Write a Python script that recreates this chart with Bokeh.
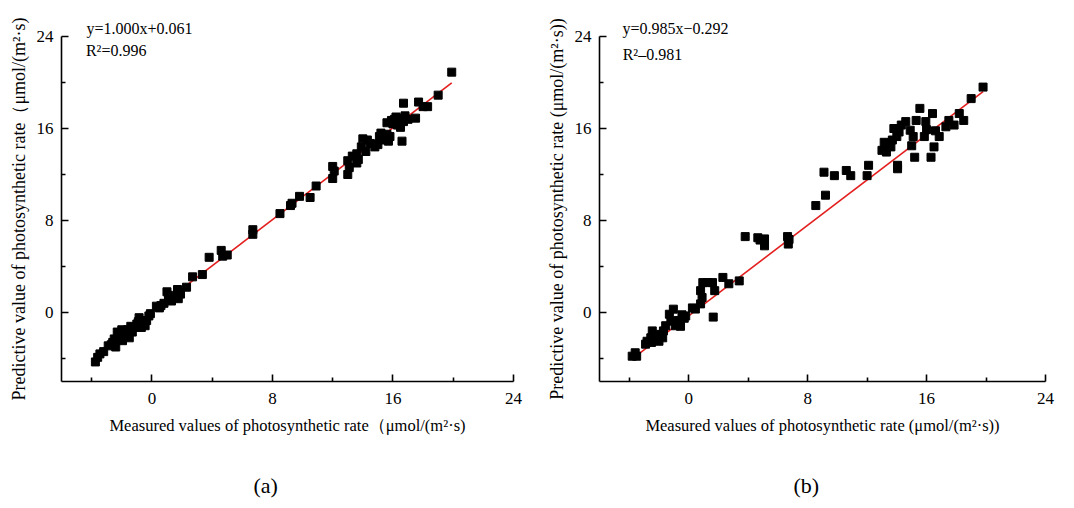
from bokeh.plotting import figure
from bokeh.layouts import row
from bokeh.models import Range1d, FixedTicker, Label, Title
from bokeh.embed import file_html
from bokeh.resources import INLINE

# ---------------- data ----------------
# Panel (a)
a_measured = [-3.75, -3.6, -3.45, -3.2, -2.9, -2.7, -2.4, -2.6, -2.5, -2.3, -2.1, -2.0, -1.95,
              -1.8, -1.7, -1.6, -1.5, -1.4, -1.3, -1.15, -1.0, -0.9, -0.85, -0.7, -0.55, -0.45,
              -0.35, -0.2, -0.1, 0.3, 0.5, 0.6, 0.8, 1.0, 1.1, 1.3, 1.4, 1.7, 1.75, 1.9, 2.3,
              2.7, 3.35, 3.8, 4.6, 4.7, 5.0, 6.7, 6.7, 8.5, 9.2, 9.3, 9.8, 10.5, 10.9, 12.0,
              12.1, 12.0, 13.0, 13.1, 13.0, 13.3, 13.6, 13.7, 13.6, 13.9, 14.0, 14.3, 14.2,
              14.5, 14.8, 15.0, 15.1, 15.2, 15.3, 15.5, 15.6, 15.7, 15.8, 15.6, 15.9, 16.0,
              16.1, 16.2, 16.3, 16.4, 16.5, 16.6, 16.7, 16.7, 16.8, 17.0, 17.5, 17.7, 18.0,
              18.3, 19.0, 19.9]
a_predicted = [-4.3, -3.9, -3.6, -3.4, -2.9, -2.8, -3.0, -2.6, -2.3, -1.7, -2.2, -1.5, -2.45,
               -1.9, -2.0, -1.5, -2.2, -1.2, -1.7, -1.3, -1.0, -0.8, -0.45, -1.3, -0.9, -1.15,
               -0.7, -0.3, -0.1, 0.55, 0.4, 0.6, 0.8, 1.8, 1.5, 1.0, 1.3, 2.0, 1.2, 1.6, 2.2,
               3.1, 3.3, 4.8, 5.4, 4.9, 5.0, 7.2, 6.8, 8.6, 9.3, 9.5, 10.1, 10.0, 11.0, 12.7,
               12.3, 11.65, 13.2, 12.6, 12.0, 13.6, 13.0, 13.3, 13.8, 14.4, 15.1, 15.0, 14.0,
               14.7, 14.4, 14.6, 15.3, 15.6, 15.0, 15.2, 15.5, 14.9, 15.3, 16.5, 16.7, 16.4,
               16.8, 17.0, 16.3, 16.9, 16.1, 14.9, 18.2, 16.6, 17.1, 16.8, 16.9, 18.3, 17.9,
               17.9, 18.9, 20.9]
a_slope, a_intercept = 1.000, 0.061
a_eq = "y=1.000x+0.061"
a_r2 = "R\u00b2=0.996"

# Panel (b)
b_measured = [-3.8, -3.5, -3.6, -2.9, -2.8, -2.5, -2.55, -2.45, -2.2, -2.0, -1.9, -1.75, -1.7,
              -1.55, -1.3, -1.2, -1.03, -0.9, -0.7, -0.55, -0.45, -0.3, -0.2, 0.25, 0.45, 0.8,
              0.9, 0.8, 0.95, 1.25, 1.6, 1.75, 1.65, 2.3, 2.7, 3.4, 3.8, 4.65, 4.8, 5.1, 5.1,
              6.65, 6.7, 6.75, 8.55, 9.1, 9.2, 9.8, 10.6, 10.9, 12.0, 12.1, 13.0, 13.15, 13.3,
              13.4, 13.6, 13.7, 13.8, 14.0, 14.05, 14.05, 14.15, 14.3, 14.6, 14.9, 15.0, 15.1,
              15.2, 15.3, 15.55, 15.85, 16.0, 15.95, 16.3, 16.4, 16.5, 16.6, 16.85, 17.3, 17.5,
              17.85, 18.2, 18.5, 19.0, 19.8]
b_predicted = [-3.8, -3.8, -3.5, -2.75, -2.5, -2.6, -2.2, -1.6, -2.2, -2.5, -1.9, -2.2, -1.6,
               -1.15, -0.15, -0.75, 0.29, -1.15, -0.7, -1.2, -0.2, -0.5, -0.3, 0.4, 0.3, 0.75,
               1.3, 1.9, 2.6, 2.6, 2.6, 1.9, -0.4, 3.05, 2.5, 2.75, 6.6, 6.5, 6.3, 6.4, 5.8,
               6.6, 5.95, 6.35, 9.3, 12.2, 10.2, 11.9, 12.35, 11.9, 11.9, 12.8, 14.1, 14.8, 13.95,
               14.7, 14.4, 15.0, 16.0, 15.3, 12.8, 12.5, 15.7, 16.3, 16.6, 15.85, 14.5, 15.3,
               13.5, 16.7, 17.75, 15.3, 15.9, 16.6, 13.5, 17.3, 14.4, 15.8, 15.3, 16.15, 16.7,
               16.3, 17.3, 16.7, 18.6, 19.6]
b_slope, b_intercept = 0.985, -0.292
b_eq = "y=0.985x\u22120.292"
b_r2 = "R\u00b2\u20130.981"

major_ticks = [0, 8, 16, 24]
minor_ticks = [-4, 4, 12, 20]
axis_min, axis_max = -6, 24

FONT = "Liberation Serif"


def make_panel(xs, ys, slope, intercept, eq, r2, xlabel, ylabel, tag,
               border_left, border_right, frame_w, eq_offset, eq_x, r2_y, tag_offset):
    p = figure(frame_width=frame_w, frame_height=345,
               x_range=Range1d(axis_min, axis_max), y_range=Range1d(axis_min, axis_max),
               output_backend="svg", toolbar_location=None,
               min_border_left=border_left, min_border_right=border_right,
               min_border_top=36, min_border_bottom=125,
               background_fill_color="white", border_fill_color="white")
    p.outline_line_color = None
    p.grid.visible = False

    for ax in (p.xaxis[0], p.yaxis[0]):
        ax.ticker = FixedTicker(ticks=major_ticks, minor_ticks=minor_ticks)
        ax.axis_line_color = "black"
        ax.axis_line_width = 1.6
        ax.major_tick_in = 7
        ax.major_tick_out = 0
        ax.minor_tick_in = 4
        ax.minor_tick_out = 0
        ax.major_tick_line_width = 1.6
        ax.minor_tick_line_width = 1.6
        ax.major_tick_line_color = "black"
        ax.minor_tick_line_color = "black"
        ax.major_label_text_font = FONT
        ax.major_label_text_font_size = "17px"
        ax.major_label_text_color = "black"
        ax.axis_label_text_font = FONT
        ax.axis_label_text_font_style = "normal"
        ax.axis_label_text_color = "black"
    p.xaxis[0].axis_label_text_font_size = "16.5px"
    p.yaxis[0].axis_label_text_font_size = "18px"
    p.xaxis[0].major_label_standoff = 11
    p.yaxis[0].major_label_standoff = 8
    p.xaxis[0].axis_label_standoff = 9
    p.yaxis[0].axis_label_standoff = 5

    p.xaxis.axis_label = xlabel
    p.yaxis.axis_label = ylabel

    # regression line across the measured range
    x0, x1 = min(xs), max(xs)
    p.line([x0, x1], [slope * x0 + intercept, slope * x1 + intercept],
           line_color="#e31e1e", line_width=1.6)
    p.scatter(xs, ys, marker="square", size=8, fill_color="black", line_color="black")

    # equation line sits across the top edge of the frame -> title above
    p.add_layout(Title(text=eq, align="left", offset=eq_offset, standoff=0,
                       text_font=FONT, text_font_size="16px", text_font_style="normal",
                       text_color="black"), "above")
    p.add_layout(Label(x=eq_x, y=r2_y, text=r2, text_font=FONT, text_font_size="16px",
                       text_baseline="middle", text_align="left", text_color="black"))
    p.add_layout(Title(text=tag, align="left", offset=tag_offset, standoff=66,
                       text_font=FONT, text_font_size="22px", text_font_style="normal",
                       text_color="black"), "below")
    return p


p1 = make_panel(a_measured, a_predicted, a_slope, a_intercept, a_eq, a_r2,
                "Measured values of photosynthetic rate\uff08\u03bcmol/(m\u00b2\u00b7s)",
                "Predictive value of photosynthetic rate\uff08\u03bcmol/(m\u00b2\u00b7s)",
                "(a)", 61, 24, 452, 25, -4.38, 22.78, 192)
p2 = make_panel(b_measured, b_predicted, b_slope, b_intercept, b_eq, b_r2,
                "Measured values of photosynthetic rate (\u03bcmol/(m\u00b2\u00b7s))",
                "Predictive value of photosynthetic rate (\u03bcmol/(m\u00b2\u00b7s))",
                "(b)", 62, 27, 446, 23, -4.44, 22.4, 194)

layout = row(p1, p2)
open("out.html", "w").write(file_html(layout, INLINE))
